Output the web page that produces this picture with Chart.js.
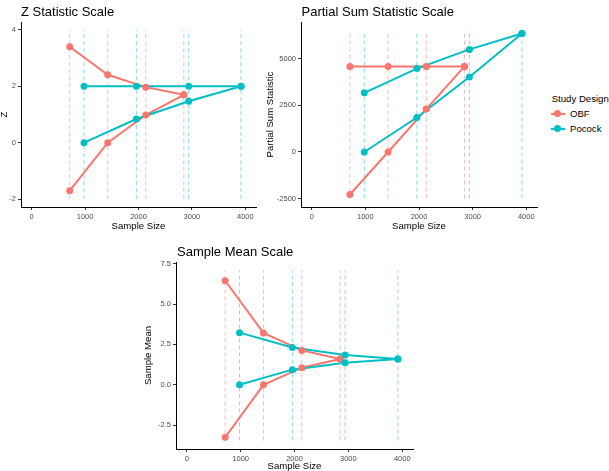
<!DOCTYPE html>
<html>
<head>
<meta charset="utf-8">
<script src="https://cdn.jsdelivr.net/npm/chart.js@4.4.1/dist/chart.umd.min.js"></script>
<style>
  body { margin: 0; background: #fff; font-family: "Liberation Sans", Arial, sans-serif; }
  #wrap { position: relative; width: 609px; height: 471px; overflow: hidden; background: #fff; }
  canvas { position: absolute; }
  .ptitle { position: absolute; font-size: 13px; line-height: 1; color: #000; white-space: nowrap; }
  .leg { position: absolute; font-size: 9.6px; line-height: 1; color: #000; white-space: nowrap; }
  .key-line { position: absolute; height: 2px; width: 14px; }
  .key-dot { position: absolute; width: 7px; height: 7px; border-radius: 50%; }
</style>
</head>
<body>
<div id="wrap">
  <canvas id="zChart" width="270" height="235" style="left:0px;top:0px"></canvas>
  <canvas id="psChart" width="285" height="235" style="left:260px;top:0px"></canvas>
  <canvas id="smChart" width="290" height="236" style="left:140px;top:235px"></canvas>

  <div class="ptitle" style="left:21px;top:4.7px">Z Statistic Scale</div>
  <div class="ptitle" style="left:301.5px;top:4.7px">Partial Sum Statistic Scale</div>
  <div class="ptitle" style="left:177px;top:244.7px">Sample Mean Scale</div>

  <div class="leg" style="left:551.7px;top:94.2px">Study Design</div>
  <div class="key-line" style="left:550.5px;top:112.5px;background:#F8766D"></div>
  <div class="key-dot" style="left:554px;top:110px;background:#F8766D"></div>
  <div class="leg" style="left:570px;top:109.3px">OBF</div>
  <div class="key-line" style="left:550.5px;top:127.5px;background:#00BFC4"></div>
  <div class="key-dot" style="left:554px;top:125px;background:#00BFC4"></div>
  <div class="leg" style="left:570px;top:123.9px">Pocock</div>
</div>

<script>
// --- data ---
const sampleSizeTicks = [0, 1000, 2000, 3000, 4000];
const obfN = [712, 1424, 2136, 2848];
const pocockN = [980, 1960, 2940, 3920];

// Z statistic scale
const zObfUpper = [3.40, 2.41, 1.97, 1.70];
const zObfLower = [-1.70, 0.00, 0.98, 1.70];
const zPocockUpper = [2.00, 2.00, 2.00, 2.00];
const zPocockLower = [0.00, 0.84, 1.47, 2.00];
const zTicks = [-2, 0, 2, 4];
const zGuide = [-2, 4];

// Partial sum statistic scale
const psObfUpper = [4590, 4590, 4590, 4590];
const psObfLower = [-2280, 0, 2300, 4590];
const psPocockUpper = [3170, 4470, 5500, 6350];
const psPocockLower = [0, 1850, 4020, 6350];
const psTicks = [-2500, 0, 2500, 5000];
const psGuide = [-2500, 6520];

// Sample mean scale
const smObfUpper = [6.44, 3.21, 2.13, 1.60];
const smObfLower = [-3.25, 0.00, 1.06, 1.60];
const smPocockUpper = [3.23, 2.31, 1.85, 1.60];
const smPocockLower = [0.00, 0.94, 1.37, 1.60];
const smTicks = [-2.5, 0, 2.5, 5, 7.5];
const smGuide = [-3.44, 7.08];

const OBF = '#F8766D';
const POC = '#00BFC4';
const OBF_DASH = 'rgba(248,118,109,0.5)';
const POC_DASH = 'rgba(0,191,196,0.5)';
const FONT = '"Liberation Sans", Arial, sans-serif';

function pts(xs, ys) {
    return xs.map((x, i) => ({ x: x, y: ys[i] }));
}

function guides(xs, range, color) {
    return xs.map(x => ({
        data: [{ x: x, y: range[0] }, { x: x, y: range[1] }],
        showLine: true, borderColor: color, borderWidth: 1, borderDash: [4, 3],
        pointRadius: 0, order: 10
    }));
}

function lineSet(xs, ys, color) {
    return { data: pts(xs, ys), showLine: true, borderColor: color, borderWidth: 2, pointRadius: 0, order: 5 };
}

function pointSet(xs, ys, color, order) {
    return { data: pts(xs, ys), showLine: false, pointRadius: 3.5, pointBackgroundColor: color,
             pointBorderColor: color, pointBorderWidth: 0, order: order };
}

function initPanel(id, cfg) {
    const ctx = document.getElementById(id).getContext('2d');
    const datasets = []
        .concat(guides(obfN, cfg.guide, OBF_DASH))
        .concat(guides(pocockN, cfg.guide, POC_DASH))
        .concat([
            lineSet(obfN, cfg.obf[0], OBF),
            lineSet(obfN, cfg.obf[1], OBF),
            Object.assign(lineSet(pocockN, cfg.poc[0], POC), { order: 4 }),
            Object.assign(lineSet(pocockN, cfg.poc[1], POC), { order: 4 }),
            pointSet(obfN, cfg.obf[0], OBF, 3),
            pointSet(obfN, cfg.obf[1], OBF, 3),
            pointSet(pocockN, cfg.poc[0], POC, 2),
            pointSet(pocockN, cfg.poc[1], POC, 2)
        ]);

    return new Chart(ctx, {
        type: 'scatter',
        data: { datasets: datasets },
        options: {
            responsive: false,
            animation: false,
            devicePixelRatio: 1,
            layout: { padding: cfg.padding },
            plugins: { legend: { display: false }, tooltip: { enabled: false } },
            scales: {
                x: {
                    type: 'linear', min: -200, max: 4200,
                    afterBuildTicks: s => { s.ticks = sampleSizeTicks.map(v => ({ value: v })); },
                    afterFit: s => { s.height = cfg.xHeight; },
                    grid: { display: true, drawOnChartArea: false, drawTicks: true, tickLength: 3, color: '#333' },
                    border: { display: true, color: '#000', width: 1 },
                    ticks: { color: '#4D4D4D', font: { size: 7.5, family: FONT }, padding: 2,
                             maxRotation: 0, autoSkip: false, callback: v => String(v) },
                    title: { display: true, text: 'Sample Size', color: '#000',
                             font: { size: 9.6, family: FONT, lineHeight: 1 }, padding: { top: 0, bottom: cfg.xTitlePad } }
                },
                y: {
                    type: 'linear', min: cfg.yRange[0], max: cfg.yRange[1],
                    afterBuildTicks: s => { s.ticks = cfg.yTicks.map(v => ({ value: v })); },
                    afterFit: s => { s.width = cfg.yWidth; },
                    grid: { display: true, drawOnChartArea: false, drawTicks: true, tickLength: 3, color: '#333' },
                    border: { display: true, color: '#000', width: 1 },
                    ticks: { color: '#4D4D4D', font: { size: 7.5, family: FONT }, padding: 2,
                             autoSkip: false, callback: cfg.yFormat },
                    title: { display: true, text: cfg.yTitle, color: '#000',
                             font: { size: 9.6, family: FONT, lineHeight: 1 }, padding: { top: cfg.yTitlePad, bottom: 0 } }
                }
            }
        }
    });
}

initPanel('zChart', {
    obf: [zObfUpper, zObfLower], poc: [zPocockUpper, zPocockLower],
    guide: zGuide, yRange: [-2.28, 4.28], yTicks: zTicks, yFormat: v => String(v),
    yTitle: 'Z', yTitlePad: 0, yWidth: 21, xHeight: 28, xTitlePad: 3.5,
    padding: { top: 22, right: 14, left: 0, bottom: 0 }
});

initPanel('psChart', {
    obf: [psObfUpper, psObfLower], poc: [psPocockUpper, psPocockLower],
    guide: psGuide, yRange: [-2950, 6970], yTicks: psTicks, yFormat: v => String(v),
    yTitle: 'Partial Sum Statistic', yTitlePad: 5.5, yWidth: 41, xHeight: 28, xTitlePad: 3.5,
    padding: { top: 22, right: 8, left: 0, bottom: 0 }
});

initPanel('smChart', {
    obf: [smObfUpper, smObfLower], poc: [smPocockUpper, smPocockLower],
    guide: smGuide, yRange: [-3.97, 7.6], yTicks: smTicks, yFormat: v => v.toFixed(1),
    yTitle: 'Sample Mean', yTitlePad: 4, yWidth: 36, xHeight: 22, xTitlePad: 0,
    padding: { top: 27, right: 17, left: 0, bottom: 0 }
});
</script>
</body>
</html>
